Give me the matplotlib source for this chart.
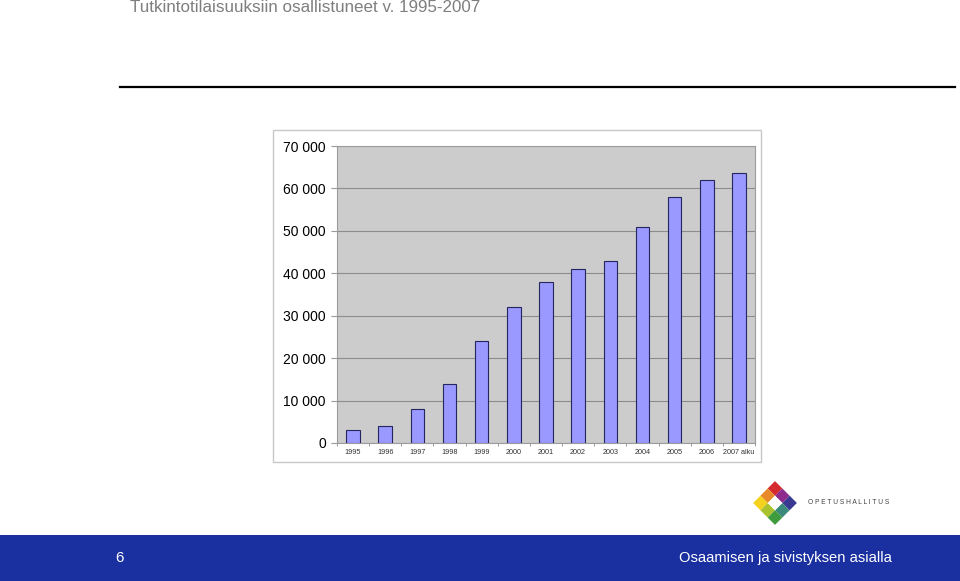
import matplotlib.pyplot as plt
from matplotlib.patches import Rectangle, Polygon
import numpy as np

plt.rcParams['font.family'] = ['Liberation Sans', 'DejaVu Sans']

years = ['1995', '1996', '1997', '1998', '1999', '2000', '2001',
         '2002', '2003', '2004', '2005', '2006', '2007 alku']
participants = [3000, 4000, 8000, 14000, 24000, 32000, 38000,
                41000, 43000, 51000, 58000, 62000, 63700]
y_ticks = [0, 10000, 20000, 30000, 40000, 50000, 60000, 70000]
y_tick_labels = ['0', '10 000', '20 000', '30 000', '40 000',
                 '50 000', '60 000', '70 000']

title = 'Tutkintotilaisuuksiin osallistuneet v. 1995-2007'
footer_text = 'Osaamisen ja sivistyksen asialla'
page_no = '6'
logo_text = 'OPETUSHALLITUS'

W, H = 960, 581
fig = plt.figure(figsize=(W / 100, H / 100), dpi=100)
fig.patch.set_facecolor('white')

# full-page overlay in pixel coordinates
page = fig.add_axes([0, 0, 1, 1], zorder=0)
page.set_xlim(0, W)
page.set_ylim(H, 0)
page.axis('off')

page.text(130, 8, title, fontsize=12.25, color='#7f7f7f', va='center', ha='left')
page.plot([120, 955], [87, 87], color='black', lw=1.6)

# chart frame
page.add_patch(Rectangle((273, 130), 488, 332, facecolor='white',
                         edgecolor='#c8c8c8', lw=1))

# footer band
page.add_patch(Rectangle((0, 535), W, H - 535, facecolor='#1a30a0',
                         edgecolor='none'))
page.text(120, 558, page_no, fontsize=11, color='white', ha='center', va='center')
page.text(892, 558, footer_text, fontsize=10.6, color='white', ha='right',
          va='center')

# logo: 3x3 grid rotated 45 degrees, white centre
logo_colors = {
    (1, 1): '#d42a30', (0, 1): '#e88a2a', (1, 0): '#8e2b8c',
    (-1, 1): '#f4d21e', (1, -1): '#3b3a92', (-1, 0): '#a9c22e',
    (0, -1): '#3b8a7c', (-1, -1): '#3f9c3c', (0, 0): 'white',
}
cx, cy, a = 775, 503, 7.3
for (i, j), c in logo_colors.items():
    corners = []
    for du, dv in [(-0.5, -0.5), (0.5, -0.5), (0.5, 0.5), (-0.5, 0.5)]:
        u, v = i + du, j + dv
        corners.append((cx + (u - v) * a, cy - (u + v) * a))
    page.add_patch(Polygon(corners, closed=True, facecolor=c, edgecolor='none'))
page.text(808, 503, ' '.join(logo_text), fontsize=4.8, color='#404040',
          ha='left', va='center')

# bar chart
ax = fig.add_axes([337 / W, 1 - 443 / H, 418 / W, 297 / H], zorder=1)
ax.set_facecolor('#cccccc')
x = np.arange(len(years))
ax.bar(x, participants, width=0.42, color='#9999ff', edgecolor='#26265e',
       lw=0.8, zorder=3)
ax.set_xlim(-0.5, len(years) - 0.5)
ax.set_ylim(0, 70000)
ax.set_yticks(y_ticks)
ax.set_yticklabels(y_tick_labels, fontsize=10, color='black')
ax.set_xticks(x)
ax.set_xticklabels(years, fontsize=5.2, color='#333333')
ax.set_xticks(np.arange(len(years) + 1) - 0.5, minor=True)
ax.tick_params(axis='x', which='major', length=0, pad=4)
ax.tick_params(axis='x', which='minor', length=2.5, color='#888888')
ax.tick_params(axis='y', length=4, color='#999999', pad=4)
ax.yaxis.grid(True, color='#8c8c8c', lw=0.8, zorder=0)
ax.set_axisbelow(True)
for s in ax.spines.values():
    s.set_color('#9c9c9c')
    s.set_linewidth(0.8)

fig.savefig('out.png', dpi=100)
